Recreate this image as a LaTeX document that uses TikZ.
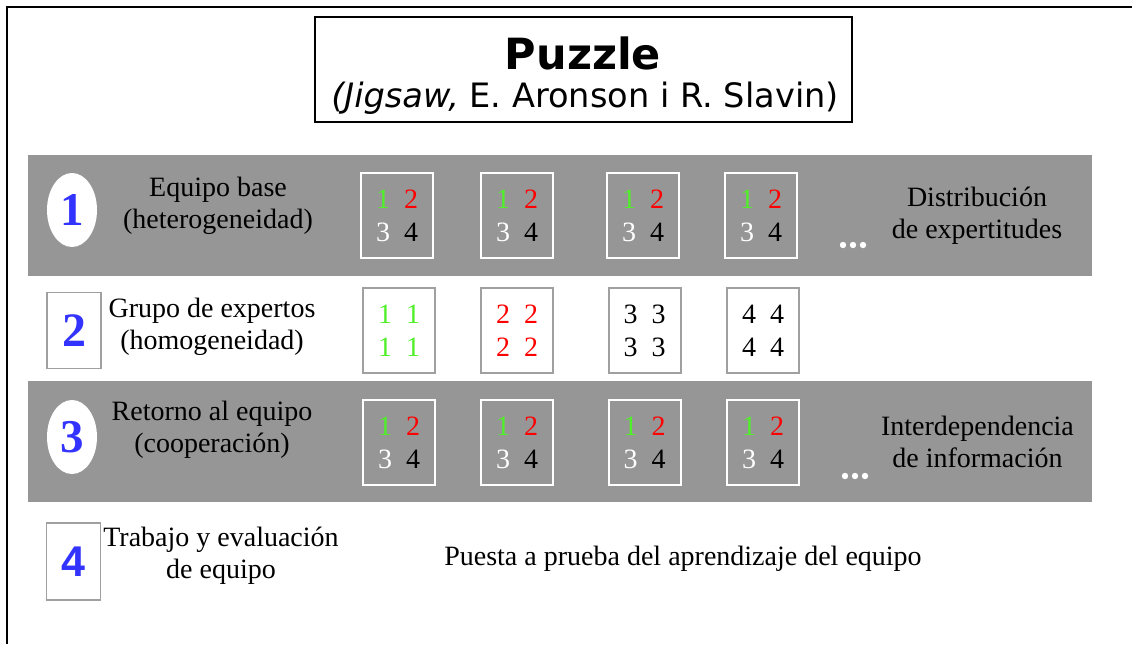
\documentclass[tikz,border=0pt]{standalone}
\usepackage{fontspec}
\setmainfont{Liberation Serif}
\newfontfamily\titlefont{DejaVu Sans}
\newfontfamily\arialfont{Liberation Sans}
\usetikzlibrary{shapes.geometric}
\definecolor{bandgray}{RGB}{150,150,150}
\definecolor{framegray}{RGB}{160,160,160}
\definecolor{numblue}{RGB}{51,51,255}
\definecolor{digitgreen}{RGB}{80,240,40}

\begin{document}
\begin{tikzpicture}[x=0.5pt,y=-0.5pt,
  font=\fontsize{14}{16}\selectfont,
  stepoval/.style={ellipse, fill=white, inner sep=0pt, minimum width=25pt,
    minimum height=37pt, text=numblue, font=\fontsize{23.5}{23.5}\selectfont\bfseries},
  stepsquare/.style={draw=framegray, line width=0.7pt, fill=white, inner sep=0pt,
    minimum width=27pt, minimum height=38pt, text=numblue,
    font=\fontsize{24}{24}\selectfont\bfseries},
  tilebox/.style={line width=1pt, inner sep=0pt, minimum width=36pt,
    minimum height=42.5pt, align=center, font=\fontsize{14}{16.5}\selectfont},
  mixtile/.style={tilebox, draw=white},
  puretile/.style={tilebox, draw=framegray, fill=white},
  steplabel/.style={align=center},
  dot/.style={fill=white}]
  \useasboundingbox (0,0) rectangle (1132,644);
  % frame and title
  \draw[line width=1pt] (7,644) -- (7,7) -- (1132,7);
  \node[draw, line width=0.8pt, inner sep=0pt, minimum width=268.5pt,
    minimum height=52.5pt] (titlebox) at (583.5,69.5) {};
  \node[font=\fontsize{21.5}{21.5}\titlefont\bfseries] (title) at (583,53) {Puzzle};
  \node[font=\fontsize{16.8}{16.8}\titlefont] (subtitle) at (585,98)
    {\textit{(Jigsaw,} E. Aronson i R. Slavin)};
  % gray bands
  \fill[bandgray] (28,155) rectangle (1092,276);
  \fill[bandgray] (28,381) rectangle (1092,502);
  % step 1
  \node[stepoval] (s1) at (72,210) {1};
  \node[steplabel] (s1text) at (218,205.5) {Equipo base\\(heterogeneidad)};
  \node[mixtile] (t11) at (397,215.5) {\textcolor{digitgreen}{1}\hspace{7pt}\textcolor{red}{2}\\\textcolor{white}{3}\hspace{7pt}4};
  \node[mixtile] (t12) at (517,215.5) {\textcolor{digitgreen}{1}\hspace{7pt}\textcolor{red}{2}\\\textcolor{white}{3}\hspace{7pt}4};
  \node[mixtile] (t13) at (643,215.5) {\textcolor{digitgreen}{1}\hspace{7pt}\textcolor{red}{2}\\\textcolor{white}{3}\hspace{7pt}4};
  \node[mixtile] (t14) at (761,215.5) {\textcolor{digitgreen}{1}\hspace{7pt}\textcolor{red}{2}\\\textcolor{white}{3}\hspace{7pt}4};
  \fill[dot] (843,245) circle (1.6pt) (853,245) circle (1.6pt) (863,245) circle (1.6pt);
  \node[steplabel] (s1note) at (977,215.5) {Distribución\\de expertitudes};
  % step 2
  \node[stepsquare] (s2) at (74,330.5) {2};
  \node[steplabel] (s2text) at (212,326.5) {Grupo de expertos\\(homogeneidad)};
  \node[puretile] (t21) at (399,330.5) {\textcolor{digitgreen}{1}\hspace{7pt}\textcolor{digitgreen}{1}\\\textcolor{digitgreen}{1}\hspace{7pt}\textcolor{digitgreen}{1}};
  \node[puretile] (t22) at (517,330.5) {\textcolor{red}{2}\hspace{7pt}\textcolor{red}{2}\\\textcolor{red}{2}\hspace{7pt}\textcolor{red}{2}};
  \node[puretile] (t23) at (644.5,330.5) {3\hspace{7pt}3\\3\hspace{7pt}3};
  \node[puretile] (t24) at (763,330.5) {4\hspace{7pt}4\\4\hspace{7pt}4};
  % step 3
  \node[stepoval] (s3) at (72,437) {3};
  \node[steplabel] (s3text) at (212,430) {Retorno al equipo\\(cooperación)};
  \node[mixtile] (t31) at (399,442.5) {\textcolor{digitgreen}{1}\hspace{7pt}\textcolor{red}{2}\\\textcolor{white}{3}\hspace{7pt}4};
  \node[mixtile] (t32) at (517,442.5) {\textcolor{digitgreen}{1}\hspace{7pt}\textcolor{red}{2}\\\textcolor{white}{3}\hspace{7pt}4};
  \node[mixtile] (t33) at (644.5,442.5) {\textcolor{digitgreen}{1}\hspace{7pt}\textcolor{red}{2}\\\textcolor{white}{3}\hspace{7pt}4};
  \node[mixtile] (t34) at (763,442.5) {\textcolor{digitgreen}{1}\hspace{7pt}\textcolor{red}{2}\\\textcolor{white}{3}\hspace{7pt}4};
  \fill[dot] (845,476) circle (1.6pt) (855,476) circle (1.6pt) (865,476) circle (1.6pt);
  \node[steplabel] (s3note) at (977.5,441.5) {Interdependencia\\de información};
  % step 4
  \node[stepsquare, minimum height=38.5pt, font=\fontsize{21.5}{21.5}\arialfont\bfseries] (s4) at (73.5,561.5) {4};
  \node[steplabel] (s4text) at (221,555.5) {Trabajo y evaluación\\de equipo};
  \node (s4note) at (683,559) {Puesta a prueba del aprendizaje del equipo};
\end{tikzpicture}
\end{document}
